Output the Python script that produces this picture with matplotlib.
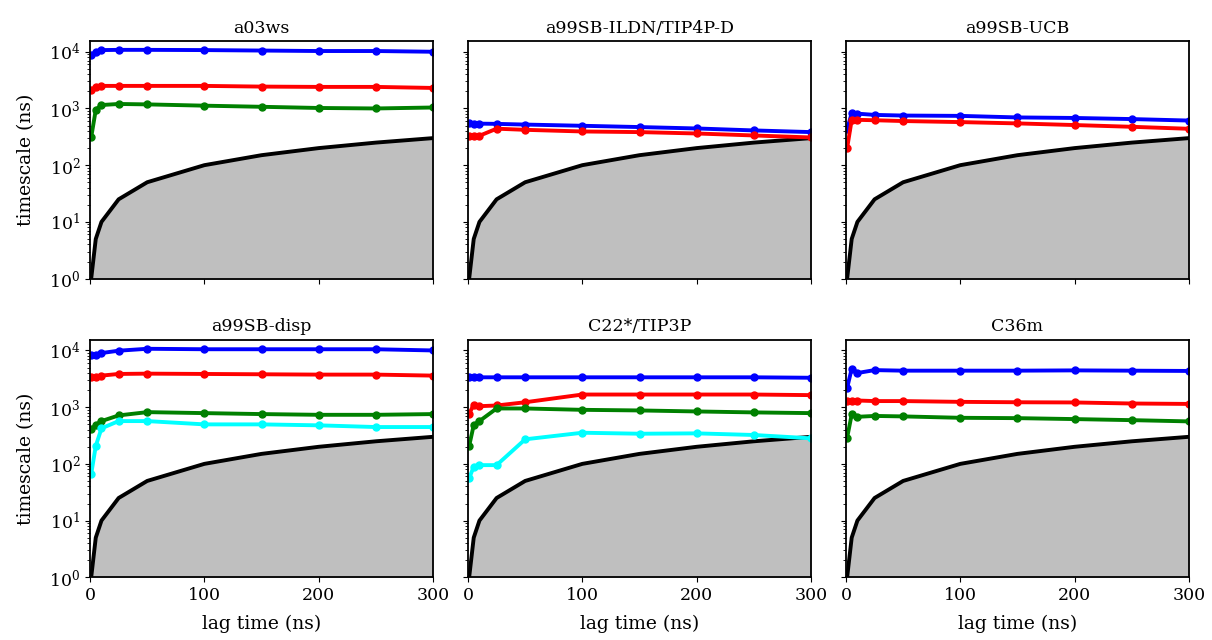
import numpy as np
import matplotlib
matplotlib.use("Agg")
import matplotlib.pyplot as plt

plt.rcParams['font.family'] = ['DejaVu Serif']
plt.rcParams['font.size'] = 12.5

lags = [1, 5, 10, 25, 50, 100, 150, 200, 250, 300]

titles = ['a03ws', 'a99SB-ILDN/TIP4P-D', 'a99SB-UCB',
          'a99SB-disp', 'C22*/TIP3P', 'C36m']

# implied timescales per force field, slowest first
a03ws_blue = [8700, 10000, 10700, 10800, 10800, 10700, 10500, 10300, 10300, 10000]
a03ws_red = [2100, 2400, 2500, 2500, 2500, 2500, 2430, 2400, 2400, 2300]
a03ws_green = [310, 945, 1150, 1200, 1180, 1120, 1070, 1020, 1000, 1040]

ildn_blue = [545, 540, 540, 535, 520, 495, 470, 444, 410, 383]
ildn_red = [330, 330, 330, 440, 420, 393, 383, 362, 334, 308]

ucb_blue = [430, 826, 810, 770, 750, 740, 695, 680, 650, 612]
ucb_red = [200, 630, 630, 620, 600, 575, 545, 510, 475, 438]

disp_blue = [8400, 8200, 9000, 9900, 10700, 10500, 10500, 10500, 10500, 10000]
disp_red = [3360, 3400, 3600, 3850, 3900, 3850, 3800, 3750, 3750, 3600]
disp_green = [406, 483, 568, 715, 817, 785, 755, 733, 733, 755]
disp_cyan = [66, 207, 423, 568, 568, 497, 497, 478, 446, 446]

c22_blue = [3360, 3360, 3360, 3360, 3360, 3360, 3360, 3360, 3360, 3300]
c22_red = [763, 1110, 1040, 1070, 1220, 1670, 1670, 1670, 1670, 1630]
c22_green = [207, 483, 568, 948, 948, 897, 875, 840, 808, 785]
c22_cyan = [56, 89, 95, 95, 271, 354, 340, 345, 323, 282]

c36_blue = [2180, 4770, 4000, 4500, 4400, 4400, 4400, 4450, 4400, 4350]
c36_red = [1310, 1310, 1310, 1280, 1280, 1240, 1220, 1210, 1160, 1140]
c36_green = [289, 745, 676, 700, 687, 649, 640, 616, 590, 561]

panels = [
    [(a03ws_blue, 'blue'), (a03ws_red, 'red'), (a03ws_green, 'green')],
    [(ildn_blue, 'blue'), (ildn_red, 'red')],
    [(ucb_blue, 'blue'), (ucb_red, 'red')],
    [(disp_blue, 'blue'), (disp_red, 'red'), (disp_green, 'green'), (disp_cyan, 'cyan')],
    [(c22_blue, 'blue'), (c22_red, 'red'), (c22_green, 'green'), (c22_cyan, 'cyan')],
    [(c36_blue, 'blue'), (c36_red, 'red'), (c36_green, 'green')],
]

fig, axes = plt.subplots(2, 3, figsize=(12.12, 6.4), dpi=100, sharex=True, sharey=True)
fig.subplots_adjust(left=0.0743, right=0.981, top=0.936, bottom=0.098,
                    wspace=0.102, hspace=0.257)

lag_arr = np.array(lags, dtype=float)
for k, ax in enumerate(axes.flat):
    ax.fill_between(lag_arr, 1e-3, lag_arr, color='0.75', lw=0)
    ax.plot(lag_arr, lag_arr, color='black', lw=2.8)
    for vals, col in panels[k]:
        ax.plot(lags, vals, '-o', color=col, lw=2.8, ms=5)
    ax.set_yscale('log')
    ax.set_xlim(0, 300)
    ax.set_ylim(1, 1.55e4)
    ax.set_title(titles[k], fontsize=12.5)
    for s in ax.spines.values():
        s.set_linewidth(1.3)
    ax.set_xticks([0, 100, 200, 300])
    if k % 3 == 0:
        ax.set_ylabel('timescale (ns)', fontsize=13.5, labelpad=10)
    if k >= 3:
        ax.set_xlabel('lag time (ns)', fontsize=13.5, labelpad=8)

fig.savefig('out.png')
